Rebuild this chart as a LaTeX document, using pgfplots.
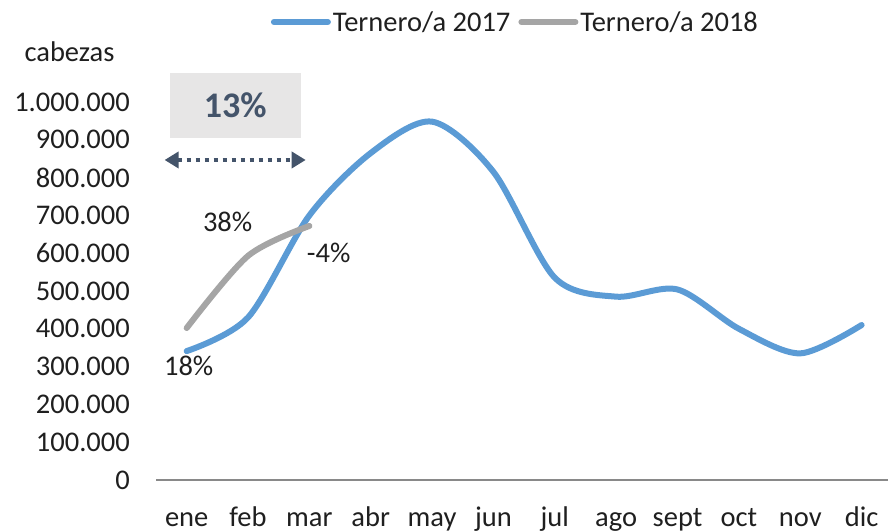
\documentclass[border=0pt]{standalone}
\usepackage{fontspec}
\setmainfont{Carlito}
\usepackage{pgfplots}
\pgfplotsset{compat=1.18}
\usetikzlibrary{arrows.meta}
\definecolor{blue17}{HTML}{5B9BD5}
\definecolor{gray18}{HTML}{A5A5A5}
\definecolor{annot}{HTML}{44546A}
\definecolor{boxfill}{HTML}{E7E6E6}
\definecolor{axisgray}{HTML}{898989}
\definecolor{txt}{HTML}{1F1F1F}
\newcommand{\fs}{\fontsize{28.5bp}{34bp}\selectfont}
\begin{document}
\begin{tikzpicture}
\useasboundingbox (0,0) rectangle (888bp,532bp);
\begin{axis}[
  at={(156bp,52bp)}, anchor=south west,
  scale only axis, width=732bp, height=378bp,
  xmin=-0.5, xmax=11.43, ymin=0, ymax=1000000,
  clip=false,
  axis lines*=left,
  y axis line style={draw=none},
  x axis line style={draw=axisgray, line width=2bp},
  major tick length=0pt,
  xtick={0,...,11},
  xticklabels={ene,feb,mar,abr,may,jun,jul,ago,sept,oct,nov,dic},
  ytick={0,100000,...,1000000},
  scaled y ticks=false,
  yticklabel={\pgfmathprintnumber[fixed, precision=0, 1000 sep={.}, assume math mode=true]{\tick}},
  ticklabel style={font=\fs, text=txt},
  yticklabel style={anchor=east, inner sep=0pt, xshift=-26bp},
  xticklabel style={anchor=base, inner sep=0pt, yshift=-46bp},
  legend columns=2,
  legend style={draw=none, fill=none, at={(rel axis cs:0.491,1.2116)}, anchor=center,
    font=\fs, text=txt,
    nodes={inner xsep=2bp, inner ysep=1bp},
    /tikz/every even column/.append style={column sep=6bp}},
  legend image code/.code={\draw[#1, line cap=round] (0bp,0bp) -- (54bp,0bp);},
]
\addplot[blue17, line width=6bp, smooth, line cap=round] coordinates {
  (0,341000) (1,430000) (2,700000) (3,865000) (4,948000) (5,815000)
  (6,535000) (7,485000) (8,504000) (9,400000) (10,335000) (11,410000)};
\addlegendentry{Ternero/a 2017}
\addplot[gray18, line width=6bp, smooth, line cap=round] coordinates {
  (0,402000) (1,593000) (2,672000)};
\addlegendentry{Ternero/a 2018}

\fill[boxfill] (axis cs:-0.277,1076700) rectangle (axis cs:1.858,904800);
\node[font=\fontsize{36bp}{42bp}\selectfont\bfseries, text=annot] at (axis cs:0.79,990700) {13\%};
\draw[annot, line width=4bp, dash pattern=on 4bp off 5bp,
  {Triangle[length=14bp,width=16bp]}-{Triangle[length=14bp,width=16bp]}]
  (axis cs:-0.36,846600) -- (axis cs:1.94,846600);
\node[font=\fs, text=txt] at (axis cs:0.668,682500) {38\%};
\node[font=\fs, text=txt] at (axis cs:2.315,600500) {-4\%};
\node[font=\fs, text=txt] at (axis cs:0.033,301600) {18\%};
\node[font=\fs, text=txt] at (axis cs:-1.91,1132000) {cabezas};
\end{axis}
\end{tikzpicture}
\end{document}
